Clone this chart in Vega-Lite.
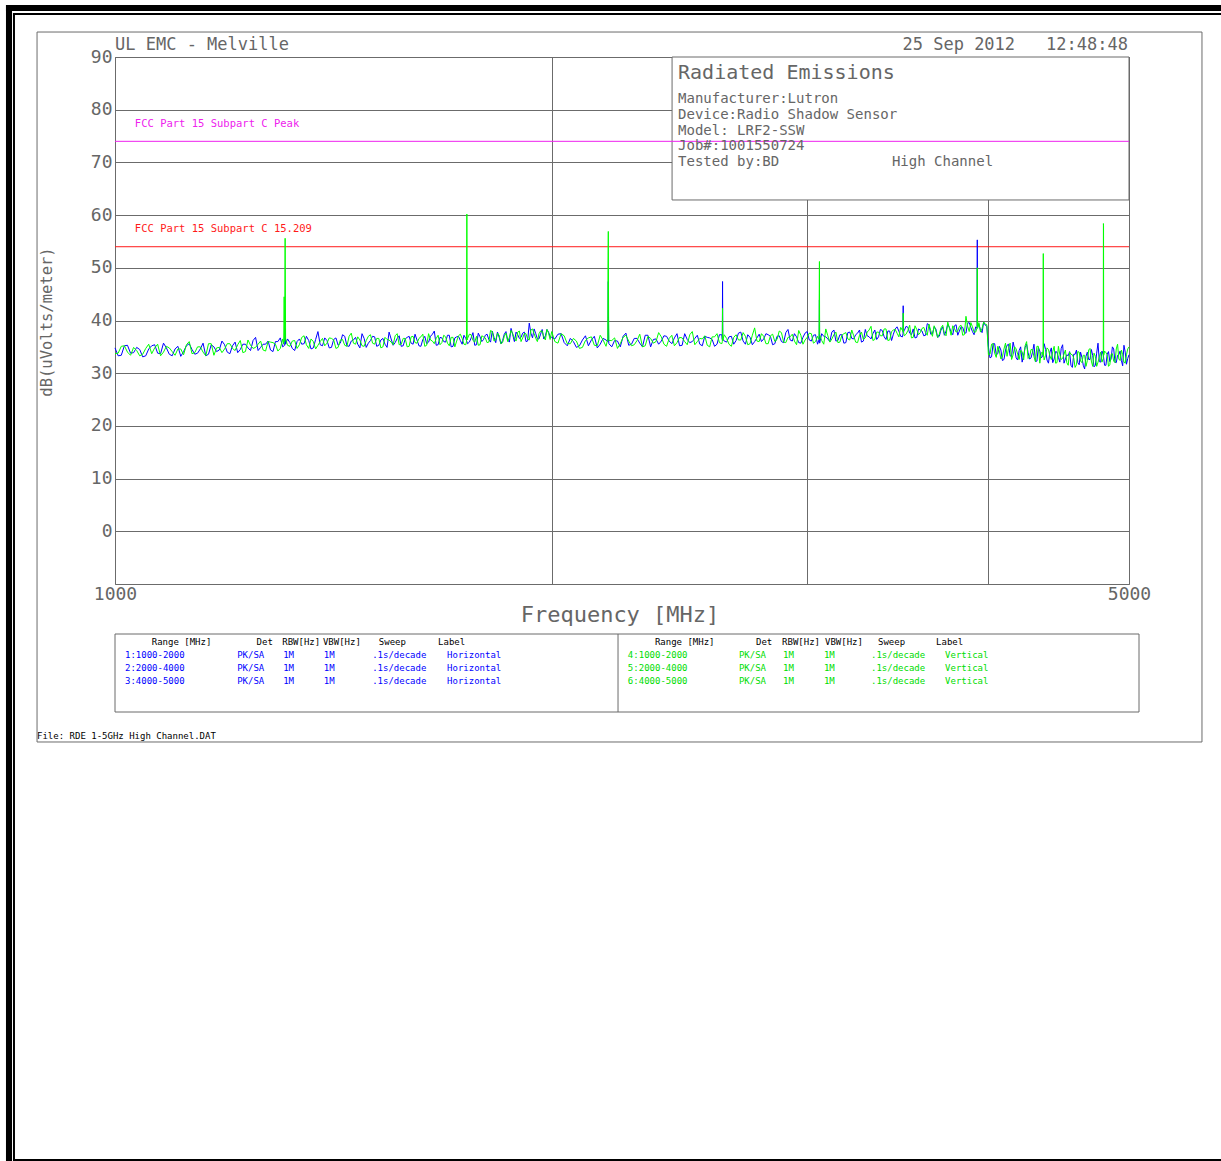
{
"$schema":"https://vega.github.io/schema/vega-lite/v6.json",
"width":1014,"height":527,
"autosize":{"type":"none"},
"padding":{"left":115,"top":57,"right":92,"bottom":577},
"background":"white",
"config":{
 "view":{"stroke":"#6b6b6b","strokeWidth":1},
 "axis":{"labelFont":"DejaVu Sans Mono","labelFontSize":18,"labelColor":"#666","gridColor":"#6b6b6b","gridOpacity":1,"gridWidth":1,"domain":false,"ticks":false},
 "text":{"font":"DejaVu Sans Mono","baseline":"middle","align":"left","color":"#666"}
},
"data":{"values":[{}]},
"datasets":{
"h":[{"f":1000,"d":34.8},{"f":1010,"d":33.4},{"f":1020,"d":35.3},{"f":1030,"d":33.9},{"f":1040,"d":34.5},{"f":1050,"d":33.3},{"f":1060,"d":35.2},{"f":1070,"d":33.8},{"f":1080,"d":35.7},{"f":1090,"d":33.6},
{"f":1100,"d":34.6},{"f":1110,"d":33.2},{"f":1120,"d":35.2},{"f":1130,"d":34.5},{"f":1140,"d":33.8},{"f":1150,"d":35.7},{"f":1160,"d":33.6},{"f":1170,"d":35.0},{"f":1180,"d":34.4},{"f":1190,"d":35.4},
{"f":1200,"d":33.7},{"f":1210,"d":35.9},{"f":1220,"d":34.5},{"f":1230,"d":35.5},{"f":1240,"d":34.3},{"f":1250,"d":36.8},{"f":1260,"d":34.9},{"f":1270,"d":35.5},{"f":1280,"d":34.4},{"f":1290,"d":36.0},
{"f":1300,"d":36.7},{"f":1309,"d":35.3},{"f":1310,"d":38.5},{"f":1311,"d":35.5},{"f":1320,"d":35.8},{"f":1330,"d":34.3},{"f":1340,"d":36.5},{"f":1350,"d":35.6},{"f":1360,"d":36.2},{"f":1370,"d":34.8},{"f":1380,"d":37.9},{"f":1390,"d":35.2},
{"f":1400,"d":36.2},{"f":1410,"d":34.9},{"f":1420,"d":36.7},{"f":1430,"d":35.7},{"f":1440,"d":37.0},{"f":1450,"d":35.1},{"f":1460,"d":36.3},{"f":1470,"d":35.5},{"f":1480,"d":37.5},{"f":1490,"d":34.9},
{"f":1500,"d":36.2},{"f":1510,"d":36.9},{"f":1520,"d":35.3},{"f":1530,"d":36.6},{"f":1540,"d":34.9},{"f":1550,"d":36.5},{"f":1560,"d":35.8},{"f":1570,"d":37.1},{"f":1580,"d":35.2},{"f":1590,"d":36.8},
{"f":1600,"d":35.7},{"f":1610,"d":37.4},{"f":1620,"d":35.2},{"f":1630,"d":36.4},{"f":1640,"d":35.6},{"f":1650,"d":37.0},{"f":1660,"d":38.0},{"f":1670,"d":35.4},{"f":1680,"d":36.7},{"f":1690,"d":35.9},
{"f":1700,"d":37.2},{"f":1710,"d":35.1},{"f":1720,"d":36.9},{"f":1730,"d":36.2},{"f":1740,"d":37.2},{"f":1750,"d":35.6},{"f":1760,"d":36.7},{"f":1770,"d":35.3},{"f":1780,"d":37.6},{"f":1790,"d":36.0},
{"f":1800,"d":37.2},{"f":1810,"d":36.4},{"f":1820,"d":38.0},{"f":1830,"d":35.8},{"f":1840,"d":36.8},{"f":1850,"d":36.2},{"f":1860,"d":37.9},{"f":1870,"d":35.9},{"f":1880,"d":37.3},{"f":1890,"d":37.8},
{"f":1900,"d":36.6},{"f":1910,"d":37.6},{"f":1920,"d":36.0},{"f":1930,"d":39.5},{"f":1940,"d":36.7},{"f":1950,"d":37.5},{"f":1960,"d":36.5},{"f":1970,"d":38.3},{"f":1980,"d":37.1},{"f":1990,"d":37.8},
{"f":2000,"d":36.8},{"f":2020,"d":37.4},{"f":2040,"d":35.8},{"f":2060,"d":36.6},{"f":2080,"d":34.9},{"f":2100,"d":36.3},{"f":2120,"d":35.2},{"f":2140,"d":37.0},{"f":2160,"d":35.5},{"f":2180,"d":36.3},
{"f":2187,"d":36.0},{"f":2188,"d":47.4},{"f":2189,"d":36.3},
{"f":2200,"d":35.0},{"f":2220,"d":36.1},{"f":2240,"d":37.0},{"f":2260,"d":35.3},{"f":2280,"d":36.6},{"f":2300,"d":35.7},{"f":2320,"d":37.2},{"f":2340,"d":35.0},{"f":2360,"d":36.5},{"f":2380,"d":36.1},
{"f":2400,"d":37.0},{"f":2420,"d":35.6},{"f":2440,"d":37.5},{"f":2460,"d":35.3},{"f":2480,"d":36.4},{"f":2500,"d":36.0},{"f":2520,"d":37.2},{"f":2540,"d":35.2},{"f":2560,"d":36.8},{"f":2580,"d":36.4},
{"f":2600,"d":35.5},{"f":2620,"d":37.3},{"f":2622,"d":36.4},{"f":2623,"d":47.4},{"f":2624,"d":36.5},{"f":2640,"d":35.9},{"f":2660,"d":37.0},{"f":2680,"d":36.2},{"f":2700,"d":37.8},{"f":2720,"d":35.5},{"f":2740,"d":36.8},{"f":2760,"d":36.0},{"f":2780,"d":37.4},
{"f":2800,"d":36.5},{"f":2820,"d":37.3},{"f":2840,"d":35.4},{"f":2860,"d":37.0},{"f":2880,"d":36.0},{"f":2900,"d":37.7},{"f":2920,"d":36.3},{"f":2940,"d":37.5},{"f":2960,"d":35.8},{"f":2980,"d":36.8},
{"f":3000,"d":37.9},{"f":3020,"d":36.1},{"f":3040,"d":37.3},{"f":3058,"d":36.5},{"f":3059,"d":43.9},{"f":3060,"d":35.7},{"f":3080,"d":37.0},{"f":3100,"d":36.5},{"f":3120,"d":37.8},{"f":3140,"d":36.1},{"f":3160,"d":37.3},{"f":3180,"d":35.7},
{"f":3200,"d":37.7},{"f":3220,"d":36.6},{"f":3240,"d":37.3},{"f":3260,"d":38.2},{"f":3280,"d":36.1},{"f":3300,"d":37.1},{"f":3320,"d":36.5},{"f":3340,"d":38.2},{"f":3360,"d":36.9},{"f":3380,"d":38.1},
{"f":3400,"d":36.4},{"f":3420,"d":38.0},{"f":3440,"d":37.4},{"f":3460,"d":38.8},{"f":3480,"d":37.0},{"f":3493,"d":37.5},{"f":3494,"d":42.8},{"f":3495,"d":37.8},{"f":3500,"d":38.1},{"f":3520,"d":38.7},{"f":3540,"d":37.3},{"f":3560,"d":36.7},{"f":3580,"d":38.4},
{"f":3600,"d":38.0},{"f":3620,"d":37.2},{"f":3640,"d":39.2},{"f":3660,"d":37.5},{"f":3680,"d":38.4},{"f":3700,"d":37.0},{"f":3720,"d":38.8},{"f":3740,"d":38.0},{"f":3760,"d":38.7},{"f":3780,"d":37.3},
{"f":3800,"d":39.2},{"f":3820,"d":38.0},{"f":3840,"d":38.7},{"f":3860,"d":37.6},{"f":3880,"d":39.6},{"f":3900,"d":37.9},{"f":3920,"d":38.8},{"f":3929,"d":38.5},{"f":3930,"d":55.3},{"f":3931,"d":38.8},{"f":3940,"d":39.3},{"f":3960,"d":37.7},{"f":3980,"d":39.1},{"f":3990,"d":38.9},
{"f":4000,"d":35.0},{"f":4020,"d":33.1},{"f":4040,"d":35.6},{"f":4060,"d":33.7},{"f":4080,"d":34.4},{"f":4100,"d":32.6},{"f":4120,"d":35.3},{"f":4140,"d":33.3},{"f":4160,"d":35.9},{"f":4180,"d":32.9},
{"f":4200,"d":34.3},{"f":4220,"d":32.1},{"f":4240,"d":34.9},{"f":4260,"d":33.9},{"f":4280,"d":32.9},{"f":4300,"d":35.5},{"f":4320,"d":32.3},{"f":4340,"d":34.2},{"f":4360,"d":33.2},{"f":4380,"d":34.5},
{"f":4400,"d":31.9},{"f":4420,"d":34.8},{"f":4440,"d":32.7},{"f":4460,"d":34.0},{"f":4480,"d":32.1},{"f":4500,"d":35.4},{"f":4520,"d":32.7},{"f":4540,"d":33.3},{"f":4560,"d":31.5},{"f":4580,"d":33.6},
{"f":4600,"d":34.4},{"f":4620,"d":31.6},{"f":4640,"d":33.0},{"f":4660,"d":30.8},{"f":4680,"d":34.0},{"f":4700,"d":32.6},{"f":4720,"d":33.4},{"f":4740,"d":31.5},{"f":4760,"d":35.7},{"f":4780,"d":32.1},
{"f":4800,"d":33.5},{"f":4820,"d":31.5},{"f":4840,"d":34.1},{"f":4860,"d":32.7},{"f":4880,"d":34.6},{"f":4900,"d":32.0},{"f":4920,"d":33.5},{"f":4940,"d":32.4},{"f":4960,"d":35.3},{"f":4980,"d":31.7},{"f":5000,"d":33.5},
{"f":1005,"d":33.3},{"f":1015,"d":35.2},{"f":1025,"d":33.8},{"f":1035,"d":34.9},{"f":1045,"d":33.1},{"f":1055,"d":34.6},{"f":1065,"d":35.4},{"f":1075,"d":33.7},{"f":1085,"d":34.8},{"f":1095,"d":33.3},
{"f":1105,"d":35.1},{"f":1115,"d":34.1},{"f":1125,"d":35.6},{"f":1135,"d":33.6},{"f":1145,"d":34.6},{"f":1155,"d":33.3},{"f":1165,"d":35.4},{"f":1175,"d":34.1},{"f":1185,"d":36.1},{"f":1195,"d":34.0},
{"f":1205,"d":35.2},{"f":1215,"d":33.9},{"f":1225,"d":35.5},{"f":1235,"d":34.8},{"f":1245,"d":36.2},{"f":1255,"d":34.3},{"f":1265,"d":35.5},{"f":1275,"d":36.1},{"f":1285,"d":34.1},{"f":1295,"d":36.0},
{"f":1305,"d":35.0},{"f":1315,"d":36.5},{"f":1325,"d":34.7},{"f":1335,"d":36.0},{"f":1345,"d":35.5},{"f":1355,"d":37.0},{"f":1365,"d":34.6},{"f":1375,"d":36.4},{"f":1385,"d":35.4},{"f":1395,"d":36.7},
{"f":1405,"d":34.8},{"f":1415,"d":36.4},{"f":1425,"d":35.3},{"f":1435,"d":37.3},{"f":1445,"d":35.2},{"f":1455,"d":36.1},{"f":1465,"d":36.8},{"f":1475,"d":34.8},{"f":1485,"d":36.6},{"f":1495,"d":35.7},
{"f":1505,"d":37.0},{"f":1515,"d":35.1},{"f":1525,"d":36.3},{"f":1535,"d":35.5},{"f":1545,"d":37.8},{"f":1555,"d":35.3},{"f":1565,"d":36.6},{"f":1575,"d":35.1},{"f":1585,"d":36.5},{"f":1595,"d":37.0},
{"f":1605,"d":35.5},{"f":1615,"d":36.3},{"f":1625,"d":35.1},{"f":1635,"d":37.0},{"f":1645,"d":35.9},{"f":1655,"d":37.4},{"f":1665,"d":35.3},{"f":1675,"d":36.8},{"f":1685,"d":36.0},{"f":1695,"d":37.2},
{"f":1705,"d":35.0},{"f":1715,"d":36.7},{"f":1725,"d":37.0},{"f":1735,"d":35.5},{"f":1745,"d":36.6},{"f":1755,"d":35.9},{"f":1765,"d":37.7},{"f":1775,"d":35.4},{"f":1785,"d":36.9},{"f":1795,"d":36.4},
{"f":1805,"d":37.4},{"f":1815,"d":35.9},{"f":1825,"d":36.8},{"f":1835,"d":37.8},{"f":1845,"d":35.6},{"f":1855,"d":37.4},{"f":1865,"d":36.3},{"f":1875,"d":38.5},{"f":1885,"d":36.0},{"f":1895,"d":37.3},
{"f":1905,"d":36.8},{"f":1915,"d":37.8},{"f":1925,"d":36.1},{"f":1935,"d":37.6},{"f":1945,"d":38.4},{"f":1955,"d":36.5},{"f":1965,"d":37.4},{"f":1975,"d":36.5},{"f":1985,"d":38.3},{"f":1995,"d":36.9},
{"f":2010,"d":36.5},{"f":2030,"d":37.5},{"f":2050,"d":35.2},{"f":2070,"d":36.0},{"f":2090,"d":35.2},{"f":2110,"d":37.1},{"f":2130,"d":36.3},{"f":2150,"d":34.8},{"f":2170,"d":36.6},{"f":2190,"d":35.6},
{"f":2210,"d":36.2},{"f":2230,"d":35.0},{"f":2250,"d":37.6},{"f":2270,"d":35.5},{"f":2290,"d":36.6},{"f":2310,"d":35.0},{"f":2330,"d":37.2},{"f":2350,"d":36.4},{"f":2370,"d":35.5},{"f":2390,"d":37.1},
{"f":2410,"d":36.1},{"f":2430,"d":36.7},{"f":2450,"d":35.2},{"f":2470,"d":37.5},{"f":2490,"d":35.8},{"f":2510,"d":36.6},{"f":2530,"d":35.5},{"f":2550,"d":37.0},{"f":2570,"d":36.7},{"f":2590,"d":35.1},
{"f":2610,"d":37.3},{"f":2630,"d":36.1},{"f":2650,"d":36.9},{"f":2670,"d":35.5},{"f":2690,"d":37.6},{"f":2710,"d":36.1},{"f":2730,"d":37.3},{"f":2750,"d":35.4},{"f":2770,"d":36.7},{"f":2790,"d":36.0},
{"f":2810,"d":37.5},{"f":2830,"d":37.0},{"f":2850,"d":35.6},{"f":2870,"d":37.1},{"f":2890,"d":35.8},{"f":2910,"d":38.3},{"f":2930,"d":36.1},{"f":2950,"d":36.9},{"f":2970,"d":35.7},{"f":2990,"d":37.6},
{"f":3010,"d":36.3},{"f":3030,"d":37.2},{"f":3050,"d":35.5},{"f":3070,"d":37.5},{"f":3090,"d":36.9},{"f":3110,"d":36.0},{"f":3130,"d":38.2},{"f":3150,"d":36.2},{"f":3170,"d":37.3},{"f":3190,"d":35.8},
{"f":3210,"d":37.8},{"f":3230,"d":36.5},{"f":3250,"d":37.6},{"f":3270,"d":35.9},{"f":3290,"d":38.3},{"f":3310,"d":36.9},{"f":3330,"d":37.5},{"f":3350,"d":36.4},{"f":3370,"d":38.3},{"f":3390,"d":36.9},
{"f":3410,"d":38.0},{"f":3430,"d":36.2},{"f":3450,"d":38.4},{"f":3470,"d":38.0},{"f":3490,"d":36.9},{"f":3510,"d":38.9},{"f":3530,"d":37.6},{"f":3550,"d":38.4},{"f":3570,"d":36.8},{"f":3590,"d":38.2},
{"f":3610,"d":37.1},{"f":3630,"d":39.4},{"f":3650,"d":37.4},{"f":3670,"d":38.8},{"f":3690,"d":36.8},{"f":3710,"d":38.2},{"f":3730,"d":37.2},{"f":3750,"d":39.3},{"f":3770,"d":37.8},{"f":3790,"d":39.0},
{"f":3810,"d":37.2},{"f":3830,"d":38.8},{"f":3850,"d":37.7},{"f":3870,"d":39.5},{"f":3890,"d":38.7},{"f":3910,"d":37.3},{"f":3935,"d":39.3},{"f":3950,"d":38.2},{"f":3970,"d":39.7},
{"f":4010,"d":32.9},{"f":4030,"d":35.6},{"f":4050,"d":33.5},{"f":4070,"d":35.1},{"f":4090,"d":32.4},{"f":4110,"d":34.4},{"f":4130,"d":35.5},{"f":4150,"d":33.2},{"f":4170,"d":34.6},{"f":4190,"d":32.5},
{"f":4210,"d":35.0},{"f":4230,"d":33.4},{"f":4250,"d":35.5},{"f":4270,"d":32.7},{"f":4290,"d":34.0},{"f":4310,"d":32.2},{"f":4330,"d":34.9},{"f":4350,"d":32.9},{"f":4370,"d":35.6},{"f":4390,"d":32.5},
{"f":4410,"d":34.0},{"f":4430,"d":32.0},{"f":4450,"d":34.1},{"f":4470,"d":33.0},{"f":4490,"d":34.7},{"f":4510,"d":31.9},{"f":4530,"d":33.5},{"f":4550,"d":34.1},{"f":4570,"d":31.1},{"f":4590,"d":33.6},
{"f":4610,"d":32.0},{"f":4630,"d":34.0},{"f":4650,"d":31.5},{"f":4670,"d":33.2},{"f":4690,"d":32.6},{"f":4710,"d":34.5},{"f":4730,"d":31.2},{"f":4750,"d":33.8},{"f":4770,"d":32.2},{"f":4790,"d":34.2},
{"f":4810,"d":31.5},{"f":4830,"d":33.6},{"f":4850,"d":32.2},{"f":4870,"d":35.0},{"f":4890,"d":32.1},{"f":4910,"d":33.4},{"f":4930,"d":34.2},{"f":4950,"d":31.4},{"f":4970,"d":34.0},{"f":4990,"d":32.8}],
"v":[{"f":1000,"d":33.7},{"f":1010,"d":35.1},{"f":1020,"d":34.0},{"f":1030,"d":34.9},{"f":1040,"d":33.3},{"f":1050,"d":34.7},{"f":1060,"d":33.7},{"f":1070,"d":35.5},{"f":1080,"d":34.0},{"f":1090,"d":34.8},
{"f":1100,"d":33.4},{"f":1110,"d":34.6},{"f":1120,"d":35.4},{"f":1130,"d":33.7},{"f":1140,"d":35.0},{"f":1150,"d":34.0},{"f":1160,"d":35.6},{"f":1170,"d":33.4},{"f":1180,"d":34.9},{"f":1190,"d":34.6},
{"f":1200,"d":35.6},{"f":1210,"d":34.3},{"f":1220,"d":36.2},{"f":1230,"d":34.1},{"f":1240,"d":35.3},{"f":1250,"d":34.9},{"f":1260,"d":36.1},{"f":1270,"d":34.2},{"f":1280,"d":35.9},{"f":1290,"d":35.5},
{"f":1300,"d":34.7},{"f":1307,"d":35.5},{"f":1308,"d":44.5},{"f":1309,"d":36.0},{"f":1310,"d":55.6},{"f":1311,"d":36.5},{"f":1320,"d":35.1},{"f":1330,"d":36.2},{"f":1340,"d":35.4},{"f":1350,"d":37.1},{"f":1360,"d":34.7},{"f":1370,"d":36.0},{"f":1380,"d":35.3},{"f":1390,"d":36.6},
{"f":1400,"d":35.7},{"f":1410,"d":36.6},{"f":1420,"d":34.7},{"f":1430,"d":36.3},{"f":1440,"d":35.3},{"f":1450,"d":37.0},{"f":1460,"d":35.7},{"f":1470,"d":36.9},{"f":1480,"d":35.2},{"f":1490,"d":36.2},
{"f":1500,"d":37.3},{"f":1510,"d":35.5},{"f":1520,"d":36.6},{"f":1530,"d":35.0},{"f":1540,"d":36.4},{"f":1550,"d":35.9},{"f":1560,"d":37.1},{"f":1570,"d":35.4},{"f":1580,"d":36.6},{"f":1590,"d":35.0},
{"f":1600,"d":36.9},{"f":1610,"d":35.8},{"f":1620,"d":36.6},{"f":1630,"d":37.4},{"f":1640,"d":35.3},{"f":1650,"d":36.3},{"f":1660,"d":35.6},{"f":1670,"d":37.2},{"f":1680,"d":35.8},{"f":1690,"d":36.9},
{"f":1700,"d":35.2},{"f":1710,"d":36.8},{"f":1720,"d":36.1},{"f":1730,"d":37.4},{"f":1740,"d":35.5},{"f":1747,"d":36.0},{"f":1748,"d":60.2},{"f":1749,"d":36.3},{"f":1750,"d":36.6},{"f":1760,"d":37.3},{"f":1770,"d":35.9},{"f":1780,"d":35.3},{"f":1790,"d":37.1},
{"f":1800,"d":36.7},{"f":1810,"d":35.9},{"f":1820,"d":37.9},{"f":1830,"d":36.3},{"f":1840,"d":37.2},{"f":1850,"d":35.8},{"f":1860,"d":37.6},{"f":1870,"d":36.8},{"f":1880,"d":37.5},{"f":1890,"d":36.1},
{"f":1900,"d":38.0},{"f":1910,"d":36.7},{"f":1920,"d":37.5},{"f":1930,"d":36.3},{"f":1940,"d":38.4},{"f":1950,"d":36.6},{"f":1960,"d":37.5},{"f":1970,"d":38.0},{"f":1980,"d":36.3},{"f":1990,"d":37.6},
{"f":2000,"d":37.9},{"f":2020,"d":35.7},{"f":2040,"d":37.1},{"f":2060,"d":35.6},{"f":2080,"d":36.1},{"f":2100,"d":34.9},{"f":2120,"d":36.7},{"f":2140,"d":35.3},{"f":2160,"d":37.2},{"f":2180,"d":35.1},
{"f":2186,"d":36.5},{"f":2187,"d":50.9},{"f":2188,"d":56.9},{"f":2189,"d":40.5},{"f":2190,"d":36.2},
{"f":2200,"d":36.2},{"f":2220,"d":34.7},{"f":2240,"d":36.8},{"f":2260,"d":36.1},{"f":2280,"d":35.4},{"f":2300,"d":37.4},{"f":2320,"d":35.2},{"f":2340,"d":36.6},{"f":2360,"d":36.0},{"f":2380,"d":36.9},
{"f":2400,"d":35.1},{"f":2420,"d":37.2},{"f":2440,"d":35.8},{"f":2460,"d":36.7},{"f":2480,"d":35.4},{"f":2500,"d":37.9},{"f":2520,"d":36.0},{"f":2540,"d":36.5},{"f":2560,"d":35.3},{"f":2580,"d":36.9},
{"f":2600,"d":37.5},{"f":2620,"d":35.6},{"f":2622,"d":36.0},{"f":2623,"d":42.3},{"f":2624,"d":36.2},{"f":2640,"d":36.6},{"f":2660,"d":35.1},{"f":2680,"d":37.3},{"f":2700,"d":36.3},{"f":2720,"d":37.0},{"f":2740,"d":35.6},{"f":2760,"d":38.6},{"f":2780,"d":36.0},
{"f":2800,"d":37.0},{"f":2820,"d":35.6},{"f":2840,"d":37.4},{"f":2860,"d":36.4},{"f":2880,"d":37.7},{"f":2900,"d":35.8},{"f":2920,"d":36.9},{"f":2940,"d":36.1},{"f":2960,"d":38.1},{"f":2980,"d":35.5},
{"f":3000,"d":36.8},{"f":3020,"d":37.5},{"f":3040,"d":36.0},{"f":3057,"d":36.4},{"f":3058,"d":45.2},{"f":3059,"d":51.2},{"f":3060,"d":37.3},{"f":3080,"d":35.5},{"f":3100,"d":37.1},{"f":3120,"d":36.5},{"f":3140,"d":37.8},{"f":3160,"d":35.9},{"f":3180,"d":37.5},
{"f":3200,"d":36.5},{"f":3220,"d":38.2},{"f":3240,"d":35.9},{"f":3260,"d":37.2},{"f":3280,"d":36.4},{"f":3300,"d":37.8},{"f":3320,"d":38.9},{"f":3340,"d":36.4},{"f":3360,"d":37.8},{"f":3380,"d":37.1},
{"f":3400,"d":38.4},{"f":3420,"d":36.3},{"f":3440,"d":38.2},{"f":3460,"d":37.6},{"f":3480,"d":38.7},{"f":3493,"d":37.9},{"f":3494,"d":41.4},{"f":3495,"d":38.0},{"f":3500,"d":37.1},{"f":3520,"d":38.1},{"f":3540,"d":36.7},{"f":3560,"d":39.0},{"f":3580,"d":37.3},
{"f":3600,"d":38.5},{"f":3620,"d":37.7},{"f":3640,"d":39.3},{"f":3660,"d":37.0},{"f":3680,"d":38.0},{"f":3700,"d":37.4},{"f":3720,"d":39.1},{"f":3740,"d":37.1},{"f":3760,"d":38.5},{"f":3780,"d":39.0},
{"f":3800,"d":37.8},{"f":3820,"d":38.9},{"f":3840,"d":37.2},{"f":3860,"d":40.8},{"f":3880,"d":37.9},{"f":3900,"d":38.8},{"f":3920,"d":37.8},{"f":3929,"d":38.6},{"f":3930,"d":50.0},{"f":3931,"d":39.0},{"f":3940,"d":39.6},{"f":3960,"d":38.5},{"f":3980,"d":39.3},{"f":3990,"d":39.2},
{"f":4000,"d":33.5},{"f":4020,"d":35.5},{"f":4040,"d":33.8},{"f":4060,"d":35.1},{"f":4080,"d":32.7},{"f":4100,"d":34.6},{"f":4120,"d":33.2},{"f":4140,"d":35.7},{"f":4160,"d":33.5},{"f":4180,"d":34.6},
{"f":4200,"d":32.6},{"f":4220,"d":34.1},{"f":4240,"d":35.2},{"f":4260,"d":32.8},{"f":4280,"d":34.5},{"f":4300,"d":33.1},{"f":4320,"d":35.1},{"f":4340,"d":31.9},{"f":4360,"d":33.9},{"f":4363,"d":33.4},{"f":4364,"d":52.7},{"f":4365,"d":33.6},{"f":4380,"d":33.4},
{"f":4400,"d":34.5},{"f":4420,"d":32.6},{"f":4440,"d":35.1},{"f":4460,"d":32.0},{"f":4480,"d":33.5},{"f":4500,"d":32.8},{"f":4520,"d":34.4},{"f":4540,"d":31.5},{"f":4560,"d":33.6},{"f":4580,"d":32.9},
{"f":4600,"d":31.6},{"f":4620,"d":34.0},{"f":4640,"d":32.0},{"f":4660,"d":33.4},{"f":4680,"d":32.4},{"f":4700,"d":34.7},{"f":4720,"d":31.3},{"f":4740,"d":33.2},{"f":4760,"d":32.1},{"f":4780,"d":34.0},
{"f":4800,"d":32.8},{"f":4801,"d":58.4},{"f":4802,"d":58.0},{"f":4803,"d":33.4},{"f":4820,"d":33.9},{"f":4840,"d":31.3},{"f":4860,"d":33.6},{"f":4880,"d":32.3},{"f":4900,"d":34.6},{"f":4920,"d":32.7},{"f":4940,"d":34.4},{"f":4960,"d":32.1},{"f":4980,"d":33.5},{"f":5000,"d":35.0},
{"f":1005,"d":33.8},{"f":1015,"d":35.2},{"f":1025,"d":33.4},{"f":1035,"d":34.3},{"f":1045,"d":33.6},{"f":1055,"d":35.5},{"f":1065,"d":34.8},{"f":1075,"d":33.3},{"f":1085,"d":35.1},{"f":1095,"d":34.1},
{"f":1105,"d":34.6},{"f":1115,"d":33.5},{"f":1125,"d":36.0},{"f":1135,"d":33.9},{"f":1145,"d":35.0},{"f":1155,"d":33.3},{"f":1165,"d":35.6},{"f":1175,"d":34.8},{"f":1185,"d":33.9},{"f":1195,"d":35.6},
{"f":1205,"d":34.7},{"f":1215,"d":35.4},{"f":1225,"d":33.9},{"f":1235,"d":36.3},{"f":1245,"d":34.7},{"f":1255,"d":35.5},{"f":1265,"d":34.4},{"f":1275,"d":36.0},{"f":1285,"d":35.8},{"f":1295,"d":34.2},
{"f":1305,"d":36.5},{"f":1315,"d":35.3},{"f":1325,"d":36.1},{"f":1335,"d":34.7},{"f":1345,"d":36.8},{"f":1355,"d":35.4},{"f":1365,"d":36.5},{"f":1375,"d":34.6},{"f":1385,"d":36.0},{"f":1395,"d":35.2},
{"f":1405,"d":36.7},{"f":1415,"d":36.3},{"f":1425,"d":34.9},{"f":1435,"d":36.4},{"f":1445,"d":35.1},{"f":1455,"d":37.6},{"f":1465,"d":35.5},{"f":1475,"d":36.3},{"f":1485,"d":35.1},{"f":1495,"d":37.0},
{"f":1505,"d":35.7},{"f":1515,"d":36.6},{"f":1525,"d":34.8},{"f":1535,"d":36.8},{"f":1545,"d":36.3},{"f":1555,"d":35.4},{"f":1565,"d":37.5},{"f":1575,"d":35.5},{"f":1585,"d":36.6},{"f":1595,"d":35.1},
{"f":1605,"d":37.0},{"f":1615,"d":35.7},{"f":1625,"d":36.9},{"f":1635,"d":35.1},{"f":1645,"d":37.5},{"f":1655,"d":36.1},{"f":1665,"d":36.6},{"f":1675,"d":35.4},{"f":1685,"d":37.2},{"f":1695,"d":35.7},
{"f":1705,"d":36.8},{"f":1715,"d":35.0},{"f":1725,"d":37.1},{"f":1735,"d":36.6},{"f":1745,"d":35.4},{"f":1755,"d":37.4},{"f":1765,"d":36.2},{"f":1775,"d":37.0},{"f":1785,"d":35.4},{"f":1795,"d":36.9},
{"f":1805,"d":35.8},{"f":1815,"d":38.1},{"f":1825,"d":36.1},{"f":1835,"d":37.6},{"f":1845,"d":35.6},{"f":1855,"d":37.0},{"f":1865,"d":36.0},{"f":1875,"d":38.1},{"f":1885,"d":36.6},{"f":1895,"d":37.8},
{"f":1905,"d":36.0},{"f":1915,"d":37.5},{"f":1925,"d":36.5},{"f":1935,"d":38.2},{"f":1945,"d":37.5},{"f":1955,"d":36.0},{"f":1965,"d":38.0},{"f":1975,"d":36.9},{"f":1985,"d":38.3},{"f":1995,"d":36.4},
{"f":2010,"d":36.0},{"f":2030,"d":37.5},{"f":2050,"d":35.6},{"f":2070,"d":36.6},{"f":2090,"d":34.7},{"f":2110,"d":36.2},{"f":2130,"d":36.9},{"f":2150,"d":35.2},{"f":2170,"d":36.3},
{"f":2210,"d":36.7},{"f":2230,"d":35.6},{"f":2250,"d":37.2},{"f":2270,"d":35.2},{"f":2290,"d":36.2},{"f":2310,"d":35.0},{"f":2330,"d":37.0},{"f":2350,"d":35.7},{"f":2370,"d":37.7},{"f":2390,"d":35.5},
{"f":2410,"d":36.6},{"f":2430,"d":35.2},{"f":2450,"d":36.8},{"f":2470,"d":36.0},{"f":2490,"d":37.3},{"f":2510,"d":35.4},{"f":2530,"d":36.6},{"f":2550,"d":37.1},{"f":2570,"d":35.0},{"f":2590,"d":36.9},
{"f":2610,"d":35.8},{"f":2630,"d":37.3},{"f":2650,"d":35.5},{"f":2670,"d":36.8},{"f":2690,"d":36.3},{"f":2710,"d":37.7},{"f":2730,"d":35.4},{"f":2750,"d":37.2},{"f":2770,"d":36.1},{"f":2790,"d":37.5},
{"f":2810,"d":35.6},{"f":2830,"d":37.1},{"f":2850,"d":36.0},{"f":2870,"d":38.0},{"f":2890,"d":35.9},{"f":2910,"d":36.8},{"f":2930,"d":37.4},{"f":2950,"d":35.4},{"f":2970,"d":37.2},{"f":2990,"d":36.3},
{"f":3010,"d":37.6},{"f":3030,"d":35.7},{"f":3050,"d":37.0},{"f":3070,"d":36.2},{"f":3090,"d":38.4},{"f":3110,"d":35.9},{"f":3130,"d":37.3},{"f":3150,"d":35.8},{"f":3170,"d":37.2},{"f":3190,"d":37.7},
{"f":3210,"d":36.3},{"f":3230,"d":37.1},{"f":3250,"d":35.8},{"f":3270,"d":37.8},{"f":3290,"d":36.7},{"f":3310,"d":38.2},{"f":3330,"d":36.2},{"f":3350,"d":37.8},{"f":3370,"d":37.1},{"f":3390,"d":38.4},
{"f":3410,"d":36.2},{"f":3430,"d":37.9},{"f":3450,"d":38.3},{"f":3470,"d":36.9},{"f":3490,"d":38.1},{"f":3510,"d":37.4},{"f":3530,"d":39.1},{"f":3550,"d":36.8},{"f":3570,"d":38.3},{"f":3590,"d":37.7},
{"f":3610,"d":38.7},{"f":3630,"d":37.2},{"f":3650,"d":38.1},{"f":3670,"d":39.0},{"f":3690,"d":36.8},{"f":3710,"d":38.6},{"f":3730,"d":37.5},{"f":3750,"d":39.7},{"f":3770,"d":37.2},{"f":3790,"d":38.5},
{"f":3810,"d":38.0},{"f":3830,"d":39.1},{"f":3850,"d":37.3},{"f":3870,"d":38.9},{"f":3890,"d":39.6},{"f":3910,"d":37.8},{"f":3935,"d":38.7},{"f":3950,"d":37.8},{"f":3970,"d":39.7},
{"f":4010,"d":33.6},{"f":4030,"d":35.6},{"f":4050,"d":33.0},{"f":4070,"d":34.2},{"f":4090,"d":33.1},{"f":4110,"d":35.7},{"f":4130,"d":34.7},{"f":4150,"d":32.6},{"f":4170,"d":35.0},{"f":4190,"d":33.6},
{"f":4210,"d":34.3},{"f":4230,"d":32.5},{"f":4250,"d":36.0},{"f":4270,"d":33.1},{"f":4290,"d":34.5},{"f":4310,"d":32.2},{"f":4330,"d":35.1},{"f":4350,"d":33.9},{"f":4370,"d":32.5},{"f":4390,"d":34.8},
{"f":4410,"d":33.3},{"f":4430,"d":34.1},{"f":4450,"d":31.9},{"f":4470,"d":35.1},{"f":4490,"d":32.6},{"f":4510,"d":33.6},{"f":4530,"d":32.0},{"f":4550,"d":34.0},{"f":4570,"d":33.5},{"f":4590,"d":31.1},
{"f":4610,"d":34.1},{"f":4630,"d":32.3},{"f":4650,"d":33.4},{"f":4670,"d":31.3},{"f":4690,"d":34.4},{"f":4710,"d":32.3},{"f":4730,"d":33.8},{"f":4750,"d":31.3},{"f":4770,"d":33.1},{"f":4790,"d":32.1},
{"f":4810,"d":34.2},{"f":4830,"d":33.5},{"f":4850,"d":31.6},{"f":4870,"d":33.7},{"f":4890,"d":32.0},{"f":4910,"d":35.5},{"f":4930,"d":32.4},{"f":4950,"d":33.5},{"f":4970,"d":31.9},{"f":4990,"d":34.6}]
},
"layer":[
{"mark":{"type":"rect","fill":"white","stroke":"#6b6b6b","strokeWidth":1},
 "encoding":{"x":{"datum":2421,"type":"quantitative","scale":{"type":"log","domain":[1000,5000],"nice":false}},"x2":{"datum":5000},
 "y":{"datum":90,"type":"quantitative","scale":{"domain":[-10,90],"nice":false,"zero":false}},"y2":{"datum":62.87}}},
{"mark":{"type":"rule","color":"#ee22ee","strokeWidth":1},
 "encoding":{"y":{"datum":74,"type":"quantitative","scale":{"domain":[-10,90],"nice":false,"zero":false}}}},
{"mark":{"type":"rule","color":"#ff1a1a","strokeWidth":1},
 "encoding":{"y":{"datum":54,"type":"quantitative","scale":{"domain":[-10,90],"nice":false,"zero":false}}}},
{"data":{"name":"h"},"mark":{"type":"line","color":"#0000ff","strokeWidth":1},
 "encoding":{
  "x":{"field":"f","type":"quantitative","scale":{"type":"log","domain":[1000,5000],"nice":false},
   "axis":{"title":null,"values":[1000,2000,3000,4000,5000],"labelExpr":"(datum.value < 1001 || datum.value > 4999) ? format(datum.value,'d') : ''","labelOverlap":false,"labelFlush":false,"labelBound":false,"labelPadding":1,"grid":true}},
  "y":{"field":"d","type":"quantitative","scale":{"domain":[-10,90],"nice":false,"zero":false},
   "axis":{"title":null,"values":[0,10,20,30,40,50,60,70,80,90],"format":"d","labelPadding":3,"grid":true,"labelOverlap":false,"labelBound":false,"labelFlush":false}}}},
{"data":{"name":"v"},"mark":{"type":"line","color":"#00ff00","strokeWidth":1},
 "encoding":{
  "x":{"field":"f","type":"quantitative","scale":{"type":"log","domain":[1000,5000],"nice":false}},
  "y":{"field":"d","type":"quantitative","scale":{"domain":[-10,90],"nice":false,"zero":false}}}},
{"mark":{"type":"text","text":"UL EMC - Melville","fontSize":17},
 "encoding":{"x":{"datum":1000,"type":"quantitative","scale":{"type":"log","domain":[1000,5000],"nice":false}},"y":{"datum":92.28,"type":"quantitative","scale":{"domain":[-10,90],"nice":false,"zero":false}}}},
{"mark":{"type":"text","text":"25 Sep 2012","fontSize":17,"align":"right"},
 "encoding":{"x":{"datum":4173,"type":"quantitative","scale":{"type":"log","domain":[1000,5000],"nice":false}},"y":{"datum":92.28,"type":"quantitative","scale":{"domain":[-10,90],"nice":false,"zero":false}}}},
{"mark":{"type":"text","text":"12:48:48","fontSize":17,"align":"right"},
 "encoding":{"x":{"datum":4992,"type":"quantitative","scale":{"type":"log","domain":[1000,5000],"nice":false}},"y":{"datum":92.28,"type":"quantitative","scale":{"domain":[-10,90],"nice":false,"zero":false}}}},
{"mark":{"type":"text","text":"Radiated Emissions","fontSize":20},
 "encoding":{"x":{"datum":2444,"type":"quantitative","scale":{"type":"log","domain":[1000,5000],"nice":false}},"y":{"datum":86.96,"type":"quantitative","scale":{"domain":[-10,90],"nice":false,"zero":false}}}},
{"mark":{"type":"text","text":["Manufacturer:Lutron","Device:Radio Shadow Sensor","Model: LRF2-SSW","Job#:1001550724","Tested by:BD"],"fontSize":14,"lineHeight":15.75},
 "encoding":{"x":{"datum":2444,"type":"quantitative","scale":{"type":"log","domain":[1000,5000],"nice":false}},"y":{"datum":82.03,"type":"quantitative","scale":{"domain":[-10,90],"nice":false,"zero":false}}}},
{"mark":{"type":"text","text":"High Channel","fontSize":14},
 "encoding":{"x":{"datum":3432,"type":"quantitative","scale":{"type":"log","domain":[1000,5000],"nice":false}},"y":{"datum":70.08,"type":"quantitative","scale":{"domain":[-10,90],"nice":false,"zero":false}}}},
{"mark":{"type":"text","text":"FCC Part 15 Subpart C Peak","fontSize":10.5,"color":"#ee22ee"},
 "encoding":{"x":{"datum":1032,"type":"quantitative","scale":{"type":"log","domain":[1000,5000],"nice":false}},"y":{"datum":77.29,"type":"quantitative","scale":{"domain":[-10,90],"nice":false,"zero":false}}}},
{"mark":{"type":"text","text":"FCC Part 15 Subpart C 15.209","fontSize":10.5,"color":"#ff1a1a"},
 "encoding":{"x":{"datum":1032,"type":"quantitative","scale":{"type":"log","domain":[1000,5000],"nice":false}},"y":{"datum":57.36,"type":"quantitative","scale":{"domain":[-10,90],"nice":false,"zero":false}}}},
{"mark":{"type":"text","text":"Frequency [MHz]","fontSize":22,"align":"center"},
 "encoding":{"x":{"datum":2229,"type":"quantitative","scale":{"type":"log","domain":[1000,5000],"nice":false}},"y":{"datum":-15.88,"type":"quantitative","scale":{"domain":[-10,90],"nice":false,"zero":false}}}},
{"mark":{"type":"text","text":"dB(uVolts/meter)","fontSize":15.5,"align":"center","angle":270},
 "encoding":{"x":{"datum":897.7,"type":"quantitative","scale":{"type":"log","domain":[1000,5000],"nice":false}},"y":{"datum":39.72,"type":"quantitative","scale":{"domain":[-10,90],"nice":false,"zero":false}}}},
{"mark":{"type":"text","text":"File: RDE 1-5GHz High Channel.DAT","fontSize":9,"color":"#000000"},
 "encoding":{"x":{"datum":883.6,"type":"quantitative","scale":{"type":"log","domain":[1000,5000],"nice":false}},"y":{"datum":-38.84,"type":"quantitative","scale":{"domain":[-10,90],"nice":false,"zero":false}}}},
{"mark":{"type":"rect","fillOpacity":0,"stroke":"#6b6b6b","strokeWidth":1},
 "encoding":{"x":{"datum":1000,"type":"quantitative","scale":{"type":"log","domain":[1000,5000],"nice":false}},"x2":{"datum":5080},
 "y":{"datum":-19.49,"type":"quantitative","scale":{"domain":[-10,90],"nice":false,"zero":false}},"y2":{"datum":-34.29}}},
{"mark":{"type":"rule","color":"#6b6b6b","strokeWidth":1},
 "encoding":{"x":{"datum":2222,"type":"quantitative","scale":{"type":"log","domain":[1000,5000],"nice":false}},
 "y":{"datum":-19.49,"type":"quantitative","scale":{"domain":[-10,90],"nice":false,"zero":false}},"y2":{"datum":-34.29}}},
{"mark":{"type":"text","text":"Range [MHz]","fontSize":9,"color":"#000000"},"encoding":{"x":{"datum":1060,"type":"quantitative","scale":{"type":"log","domain":[1000,5000],"nice":false}},"y":{"datum":-21.01,"type":"quantitative","scale":{"domain":[-10,90],"nice":false,"zero":false}}}},
{"mark":{"type":"text","text":"Det","fontSize":9,"color":"#000000"},"encoding":{"x":{"datum":1252,"type":"quantitative","scale":{"type":"log","domain":[1000,5000],"nice":false}},"y":{"datum":-21.01,"type":"quantitative","scale":{"domain":[-10,90],"nice":false,"zero":false}}}},
{"mark":{"type":"text","text":"RBW[Hz]","fontSize":9,"color":"#000000"},"encoding":{"x":{"datum":1304,"type":"quantitative","scale":{"type":"log","domain":[1000,5000],"nice":false}},"y":{"datum":-21.01,"type":"quantitative","scale":{"domain":[-10,90],"nice":false,"zero":false}}}},
{"mark":{"type":"text","text":"VBW[Hz]","fontSize":9,"color":"#000000"},"encoding":{"x":{"datum":1391,"type":"quantitative","scale":{"type":"log","domain":[1000,5000],"nice":false}},"y":{"datum":-21.01,"type":"quantitative","scale":{"domain":[-10,90],"nice":false,"zero":false}}}},
{"mark":{"type":"text","text":"Sweep","fontSize":9,"color":"#000000"},"encoding":{"x":{"datum":1520,"type":"quantitative","scale":{"type":"log","domain":[1000,5000],"nice":false}},"y":{"datum":-21.01,"type":"quantitative","scale":{"domain":[-10,90],"nice":false,"zero":false}}}},
{"mark":{"type":"text","text":"Label","fontSize":9,"color":"#000000"},"encoding":{"x":{"datum":1670,"type":"quantitative","scale":{"type":"log","domain":[1000,5000],"nice":false}},"y":{"datum":-21.01,"type":"quantitative","scale":{"domain":[-10,90],"nice":false,"zero":false}}}},
{"mark":{"type":"text","text":["1:1000-2000","2:2000-4000","3:4000-5000"],"fontSize":9,"lineHeight":13,"color":"#0000ff"},"encoding":{"x":{"datum":1016,"type":"quantitative","scale":{"type":"log","domain":[1000,5000],"nice":false}},"y":{"datum":-23.47,"type":"quantitative","scale":{"domain":[-10,90],"nice":false,"zero":false}}}},
{"mark":{"type":"text","text":["PK/SA","PK/SA","PK/SA"],"fontSize":9,"lineHeight":13,"color":"#0000ff"},"encoding":{"x":{"datum":1214,"type":"quantitative","scale":{"type":"log","domain":[1000,5000],"nice":false}},"y":{"datum":-23.47,"type":"quantitative","scale":{"domain":[-10,90],"nice":false,"zero":false}}}},
{"mark":{"type":"text","text":["1M","1M","1M"],"fontSize":9,"lineHeight":13,"color":"#0000ff"},"encoding":{"x":{"datum":1306,"type":"quantitative","scale":{"type":"log","domain":[1000,5000],"nice":false}},"y":{"datum":-23.47,"type":"quantitative","scale":{"domain":[-10,90],"nice":false,"zero":false}}}},
{"mark":{"type":"text","text":["1M","1M","1M"],"fontSize":9,"lineHeight":13,"color":"#0000ff"},"encoding":{"x":{"datum":1393,"type":"quantitative","scale":{"type":"log","domain":[1000,5000],"nice":false}},"y":{"datum":-23.47,"type":"quantitative","scale":{"domain":[-10,90],"nice":false,"zero":false}}}},
{"mark":{"type":"text","text":[".1s/decade",".1s/decade",".1s/decade"],"fontSize":9,"lineHeight":13,"color":"#0000ff"},"encoding":{"x":{"datum":1504,"type":"quantitative","scale":{"type":"log","domain":[1000,5000],"nice":false}},"y":{"datum":-23.47,"type":"quantitative","scale":{"domain":[-10,90],"nice":false,"zero":false}}}},
{"mark":{"type":"text","text":["Horizontal","Horizontal","Horizontal"],"fontSize":9,"lineHeight":13,"color":"#0000ff"},"encoding":{"x":{"datum":1694,"type":"quantitative","scale":{"type":"log","domain":[1000,5000],"nice":false}},"y":{"datum":-23.47,"type":"quantitative","scale":{"domain":[-10,90],"nice":false,"zero":false}}}},
{"mark":{"type":"text","text":"Range [MHz]","fontSize":9,"color":"#000000"},"encoding":{"x":{"datum":2356,"type":"quantitative","scale":{"type":"log","domain":[1000,5000],"nice":false}},"y":{"datum":-21.01,"type":"quantitative","scale":{"domain":[-10,90],"nice":false,"zero":false}}}},
{"mark":{"type":"text","text":"Det","fontSize":9,"color":"#000000"},"encoding":{"x":{"datum":2766,"type":"quantitative","scale":{"type":"log","domain":[1000,5000],"nice":false}},"y":{"datum":-21.01,"type":"quantitative","scale":{"domain":[-10,90],"nice":false,"zero":false}}}},
{"mark":{"type":"text","text":"RBW[Hz]","fontSize":9,"color":"#000000"},"encoding":{"x":{"datum":2883,"type":"quantitative","scale":{"type":"log","domain":[1000,5000],"nice":false}},"y":{"datum":-21.01,"type":"quantitative","scale":{"domain":[-10,90],"nice":false,"zero":false}}}},
{"mark":{"type":"text","text":"VBW[Hz]","fontSize":9,"color":"#000000"},"encoding":{"x":{"datum":3086,"type":"quantitative","scale":{"type":"log","domain":[1000,5000],"nice":false}},"y":{"datum":-21.01,"type":"quantitative","scale":{"domain":[-10,90],"nice":false,"zero":false}}}},
{"mark":{"type":"text","text":"Sweep","fontSize":9,"color":"#000000"},"encoding":{"x":{"datum":3357,"type":"quantitative","scale":{"type":"log","domain":[1000,5000],"nice":false}},"y":{"datum":-21.01,"type":"quantitative","scale":{"domain":[-10,90],"nice":false,"zero":false}}}},
{"mark":{"type":"text","text":"Label","fontSize":9,"color":"#000000"},"encoding":{"x":{"datum":3681,"type":"quantitative","scale":{"type":"log","domain":[1000,5000],"nice":false}},"y":{"datum":-21.01,"type":"quantitative","scale":{"domain":[-10,90],"nice":false,"zero":false}}}},
{"mark":{"type":"text","text":["4:1000-2000","5:2000-4000","6:4000-5000"],"fontSize":9,"lineHeight":13,"color":"#00dd00"},"encoding":{"x":{"datum":2257,"type":"quantitative","scale":{"type":"log","domain":[1000,5000],"nice":false}},"y":{"datum":-23.47,"type":"quantitative","scale":{"domain":[-10,90],"nice":false,"zero":false}}}},
{"mark":{"type":"text","text":["PK/SA","PK/SA","PK/SA"],"fontSize":9,"lineHeight":13,"color":"#00dd00"},"encoding":{"x":{"datum":2692,"type":"quantitative","scale":{"type":"log","domain":[1000,5000],"nice":false}},"y":{"datum":-23.47,"type":"quantitative","scale":{"domain":[-10,90],"nice":false,"zero":false}}}},
{"mark":{"type":"text","text":["1M","1M","1M"],"fontSize":9,"lineHeight":13,"color":"#00dd00"},"encoding":{"x":{"datum":2887,"type":"quantitative","scale":{"type":"log","domain":[1000,5000],"nice":false}},"y":{"datum":-23.47,"type":"quantitative","scale":{"domain":[-10,90],"nice":false,"zero":false}}}},
{"mark":{"type":"text","text":["1M","1M","1M"],"fontSize":9,"lineHeight":13,"color":"#00dd00"},"encoding":{"x":{"datum":3081,"type":"quantitative","scale":{"type":"log","domain":[1000,5000],"nice":false}},"y":{"datum":-23.47,"type":"quantitative","scale":{"domain":[-10,90],"nice":false,"zero":false}}}},
{"mark":{"type":"text","text":[".1s/decade",".1s/decade",".1s/decade"],"fontSize":9,"lineHeight":13,"color":"#00dd00"},"encoding":{"x":{"datum":3320,"type":"quantitative","scale":{"type":"log","domain":[1000,5000],"nice":false}},"y":{"datum":-23.47,"type":"quantitative","scale":{"domain":[-10,90],"nice":false,"zero":false}}}},
{"mark":{"type":"text","text":["Vertical","Vertical","Vertical"],"fontSize":9,"lineHeight":13,"color":"#00dd00"},"encoding":{"x":{"datum":3734,"type":"quantitative","scale":{"type":"log","domain":[1000,5000],"nice":false}},"y":{"datum":-23.47,"type":"quantitative","scale":{"domain":[-10,90],"nice":false,"zero":false}}}},
{"mark":{"type":"rect","fillOpacity":0,"stroke":"#6b6b6b","strokeWidth":1},
 "encoding":{"x":{"datum":883.6,"type":"quantitative","scale":{"type":"log","domain":[1000,5000],"nice":false}},"x2":{"datum":5614},
 "y":{"datum":94.74,"type":"quantitative","scale":{"domain":[-10,90],"nice":false,"zero":false}},"y2":{"datum":-39.98}}},
{"mark":{"type":"rect","fill":"#000000"},
 "encoding":{"x":{"datum":841.1,"type":"quantitative","scale":{"type":"log","domain":[1000,5000],"nice":false}},"x2":{"datum":849.2},
 "y":{"datum":99.87,"type":"quantitative","scale":{"domain":[-10,90],"nice":false,"zero":false}},"y2":{"datum":-130}}},
{"mark":{"type":"rect","fill":"#000000"},
 "encoding":{"x":{"datum":841.1,"type":"quantitative","scale":{"type":"log","domain":[1000,5000],"nice":false}},"x2":{"datum":7000},
 "y":{"datum":99.87,"type":"quantitative","scale":{"domain":[-10,90],"nice":false,"zero":false}},"y2":{"datum":98.73}}},
{"mark":{"type":"rect","fill":"#000000"},
 "encoding":{"x":{"datum":850.5,"type":"quantitative","scale":{"type":"log","domain":[1000,5000],"nice":false}},"x2":{"datum":853.2},
 "y":{"datum":98.35,"type":"quantitative","scale":{"domain":[-10,90],"nice":false,"zero":false}},"y2":{"datum":-130}}},
{"mark":{"type":"rect","fill":"#000000"},
 "encoding":{"x":{"datum":850.5,"type":"quantitative","scale":{"type":"log","domain":[1000,5000],"nice":false}},"x2":{"datum":7000},
 "y":{"datum":98.35,"type":"quantitative","scale":{"domain":[-10,90],"nice":false,"zero":false}},"y2":{"datum":97.97}}},
{"mark":{"type":"rect","fill":"#000000"},
 "encoding":{"x":{"datum":850.5,"type":"quantitative","scale":{"type":"log","domain":[1000,5000],"nice":false}},"x2":{"datum":7000},
 "y":{"datum":-119.11,"type":"quantitative","scale":{"domain":[-10,90],"nice":false,"zero":false}},"y2":{"datum":-119.49}}}
]
}
